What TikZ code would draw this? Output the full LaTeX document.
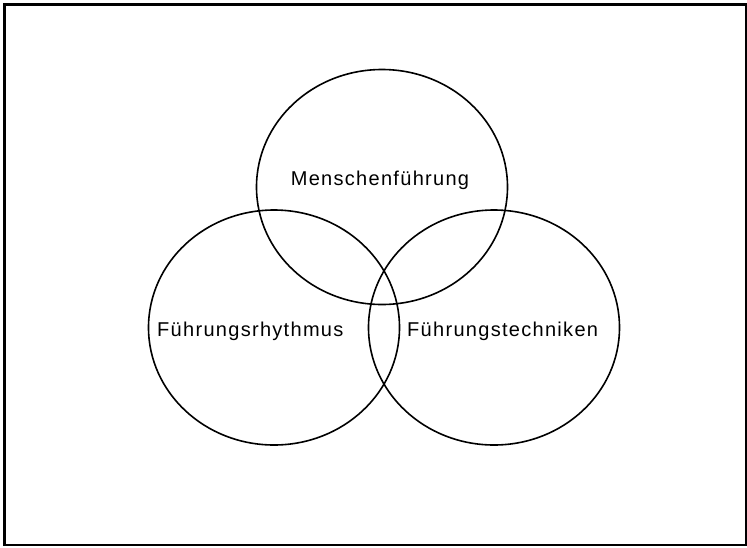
\documentclass[tikz,border=0pt]{standalone}
\usepackage{fontspec}
\setmainfont{Liberation Sans}[LetterSpace=6.5]
\usetikzlibrary{shapes.geometric}
\begin{document}
\begin{tikzpicture}[x=1pt,y=-1pt,
  venn/.style={draw=black,line width=1.6pt,ellipse,minimum width=251pt,minimum height=235pt,inner sep=0pt},
  lbl/.style={font=\fontsize{20}{24}\selectfont,inner sep=0pt}]
\useasboundingbox (0,0) rectangle (747,547);
\draw[line width=2.2pt] (4.5,4.5) rectangle (746,545);
\node[venn] (top) at (382,187) {};
\node[venn] (left) at (274,327.5) {};
\node[venn] (right) at (494,327.5) {};
\node[lbl,anchor=base] (tl) at (380,185) {Menschenführung};
\node[lbl,anchor=base west] (ll) at (157,336) {Führungsrhythmus};
\node[lbl,anchor=base west] (rl) at (407,336) {Führungstechniken};
\end{tikzpicture}
\end{document}
